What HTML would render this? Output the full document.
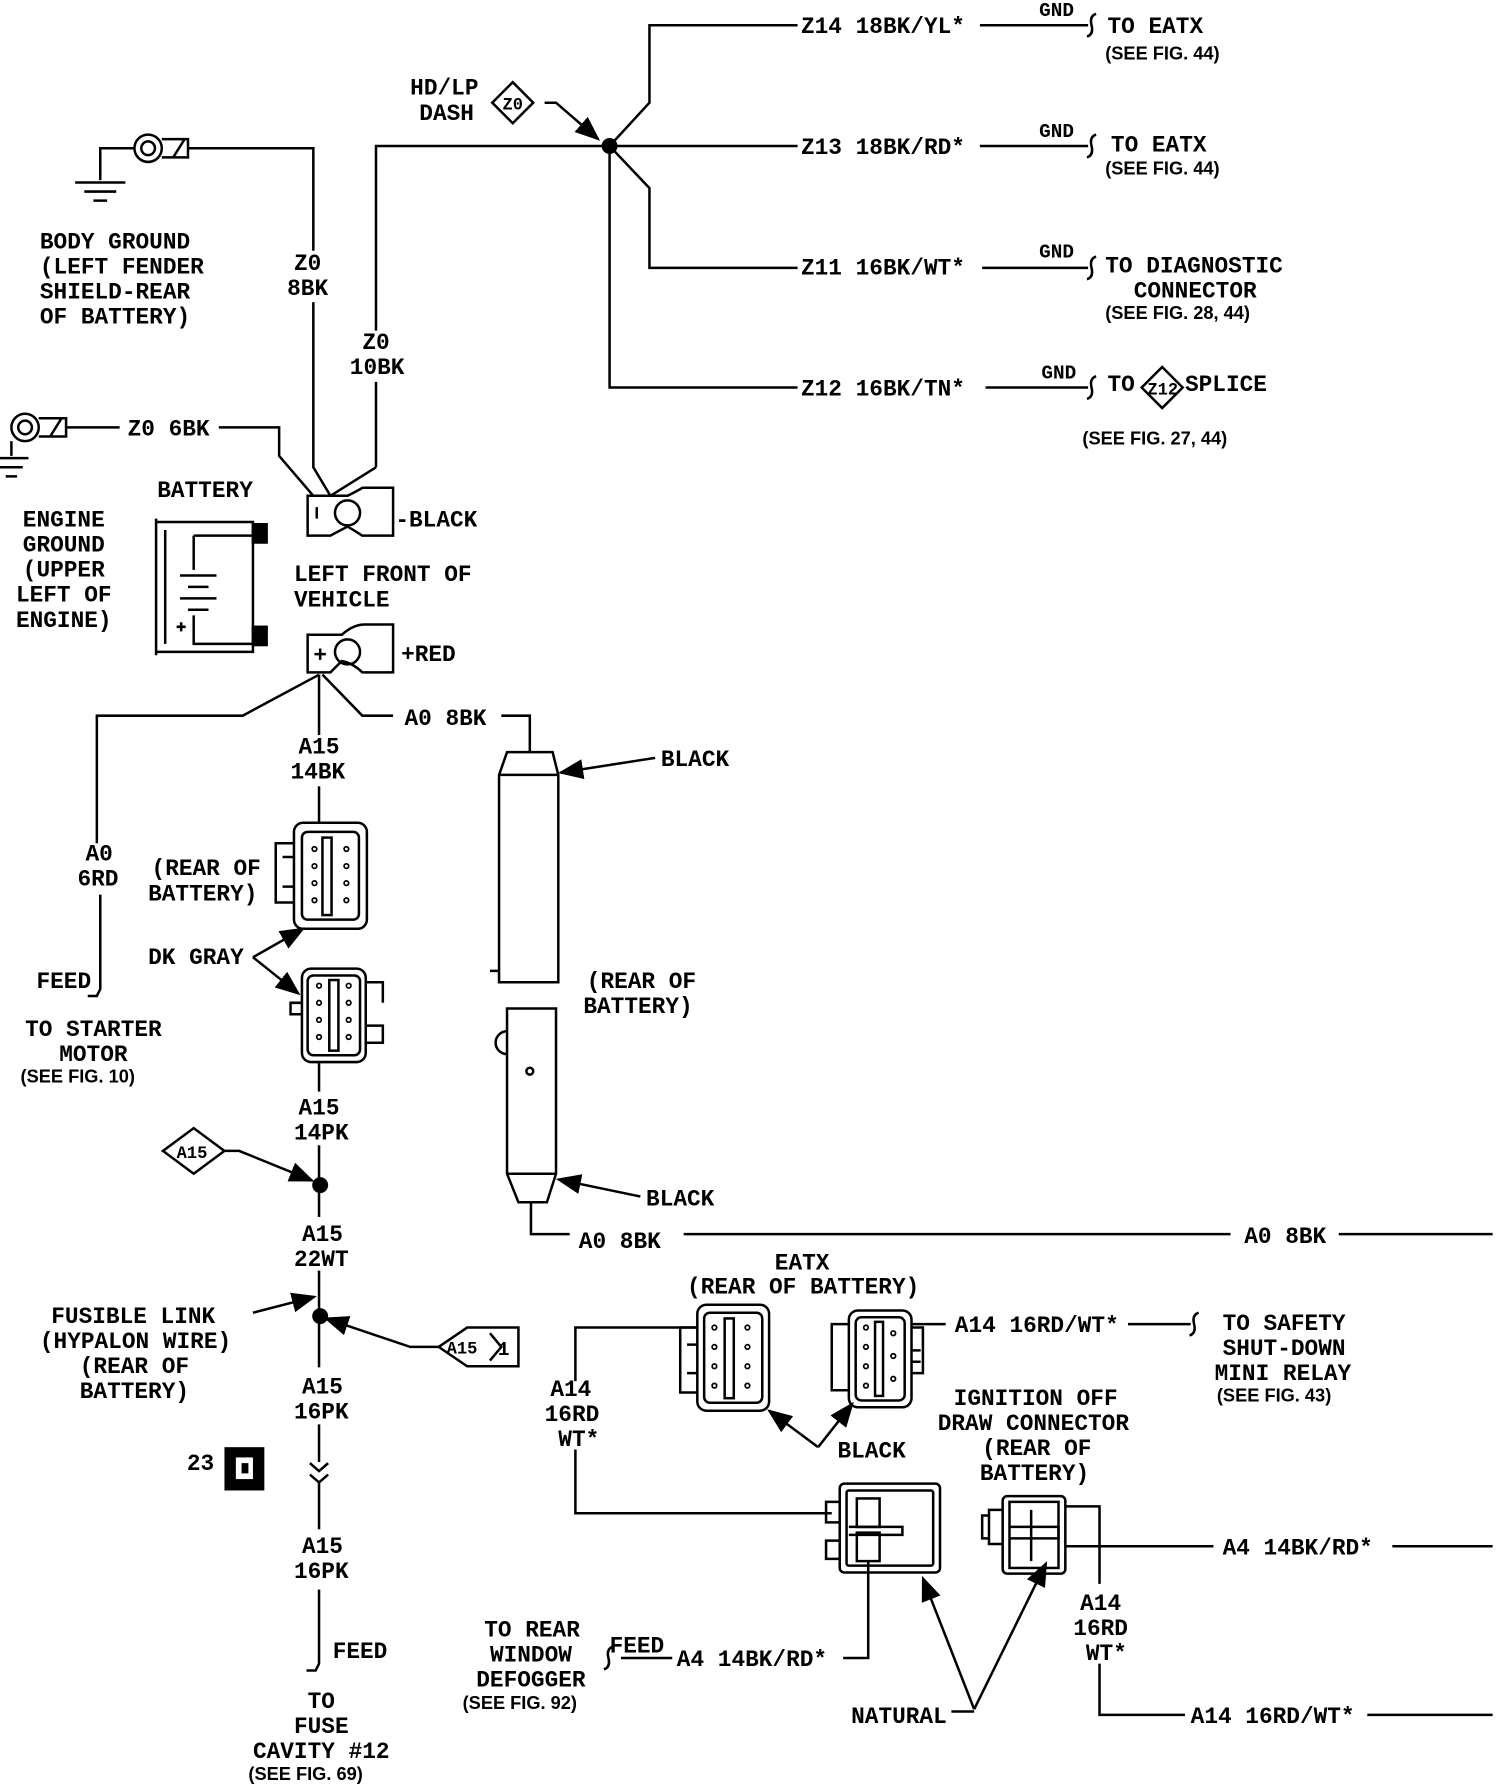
<!DOCTYPE html>
<html><head><meta charset="utf-8"><style>
html,body{margin:0;padding:0;background:#fff}
svg{display:block}
text{font-family:"Liberation Mono",monospace;font-size:20px;fill:#000;font-weight:bold}
.s{font-family:"Liberation Sans",sans-serif;font-size:16px;font-weight:bold}
.g{font-size:17px}
.t{font-size:15px}
</style></head><body>
<svg width="1504" height="1788" viewBox="0 0 1320 1569" xmlns="http://www.w3.org/2000/svg">
<defs><marker id="a" markerWidth="10" markerHeight="8" refX="9" refY="4" orient="auto"><path d="M0,0 L10,4 L0,8 z"/></marker></defs>
<g fill="none" stroke="#000" stroke-width="2.2">
<!-- top harness -->
<path d="M535,128 L570,90 L570,22 L700,22"/>
<path d="M330,410 V335 M330,290 V128 H700"/>
<path d="M535,128 L570,165 L570,235 L700,235"/>
<path d="M535,128 L535,340 L700,340"/>
<path d="M860,22 H955 M860,128 H955 M862,235 H955 M865,340 H955"/>
<path d="M962,12 q-6,2 -4,10 q2,8 -4,10 M962,118 q-6,2 -4,10 q2,8 -4,10 M962,225 q-6,2 -4,10 q2,8 -4,10 M962,330 q-6,2 -4,10 q2,8 -4,10"/>
<path d="M450,72 L468,90 L450,108 L432,90 Z"/>
<path d="M1020,322 L1038,340 L1020,358 L1002,340 Z"/>
<path d="M478,90 L488,90 L525,122" marker-end="url(#a)"/>
<!-- body ground -->
<circle cx="130" cy="130" r="12"/><circle cx="130" cy="130" r="6"/>
<path d="M142,122 H165 V138 H142 M152,138 L162,122"/>
<path d="M118,130 H88 V158 M66,160 H110 M74,168 H102 M82,176 H94"/>
<path d="M165,130 H275 V220 M275,265 V410 L290,435"/>
<!-- engine ground -->
<circle cx="22" cy="375" r="12"/><circle cx="22" cy="375" r="6"/>
<path d="M34,367 H58 V383 H34 M44,383 L54,367"/>
<path d="M10,387 V400 M-5,402 H25 M0,410 H20 M5,418 H15"/>
<path d="M58,375 H105 M192,375 H245 V400 L275,435 M330,410 L290,435"/>
<!-- -black terminal -->
<path d="M270,435 H305 Q315,430 318,428 H345 V470 H318 Q312,466 305,462 L290,470 H270 Z"/>
<circle cx="305" cy="450" r="11"/><path d="M278,445 V455"/>
<!-- battery -->
<path d="M137,455 V575 M137,458 H222 V572 H137 M145,465 V565"/>
<path d="M170,470 V500 M158,505 H190 M165,515 H183 M158,525 H190 M165,535 H183 M170,540 V565 H222 M170,470 H222"/>
<path d="M155,550 H163 M159,546 V554"/>
<rect x="222" y="460" width="12" height="16" fill="#000"/><rect x="222" y="550" width="12" height="16" fill="#000"/>
<!-- +red terminal -->
<path d="M270,557 H300 Q310,548 320,548 H345 V590 H318 Q310,582 300,580 L290,590 H270 Z"/>
<circle cx="305" cy="572" r="11"/><path d="M276,574 H286 M281,569 V579"/>
<path d="M280,592 L213,628 H85 V740 M88,785 V868 l-3,6 l-8,0"/>
<path d="M280,592 V645 M283,592 L318,628 H345 M440,628 H465 V660"/>
<!-- connectors upper -->
<rect x="258" y="722" width="64" height="93" rx="8"/><rect x="265" y="730" width="50" height="77" rx="5"/>
<path d="M258,740 H242 V792 H258 M248,752 H258 M248,778 H258"/>
<rect x="283" y="735" width="8" height="68"/>
<g stroke-width="1.5"><circle cx="276" cy="745" r="2"/><circle cx="276" cy="760" r="2"/><circle cx="276" cy="775" r="2"/><circle cx="276" cy="790" r="2"/><circle cx="304" cy="745" r="2"/><circle cx="304" cy="760" r="2"/><circle cx="304" cy="775" r="2"/><circle cx="304" cy="790" r="2"/></g>
<path d="M280,690 V722"/>
<rect x="265" y="850" width="56" height="82" rx="8"/><rect x="270" y="856" width="46" height="70" rx="5"/>
<path d="M321,862 H336 V880 M321,900 H336 V915 H321 M265,880 H255 V890 H265"/>
<rect x="289" y="860" width="8" height="62"/>
<g stroke-width="1.5"><circle cx="280" cy="865" r="2"/><circle cx="280" cy="880" r="2"/><circle cx="280" cy="895" r="2"/><circle cx="280" cy="910" r="2"/><circle cx="306" cy="865" r="2"/><circle cx="306" cy="880" r="2"/><circle cx="306" cy="895" r="2"/><circle cx="306" cy="910" r="2"/></g>
<path d="M222,840 L266,815" marker-end="url(#a)"/><path d="M222,840 L262,872" marker-end="url(#a)"/>
<!-- A15 down -->
<path d="M280,932 V958 M280,1005 V1068 M280,1115 V1200 M280,1250 V1283 M272,1284 L280,1291 L288,1284 M272,1294 L280,1301 L288,1294 M280,1301 V1342 M280,1395 V1460 l-3,6 l-8,0"/>
<path d="M143,1010 L170,990 L197,1010 L170,1030 Z"/>
<path d="M197,1010 H210 L274,1036" marker-end="url(#a)"/>
<path d="M222,1152 L276,1138" marker-end="url(#a)"/>
<path d="M385,1182 L410,1165 H455 V1199 H410 Z M430,1170 L440,1182 L430,1194"/>
<path d="M385,1182 H360 L286,1157" marker-end="url(#a)"/>
<!-- black cylinder -->
<path d="M445,660 H485 L490,680 V862 H438 V680 Z M438,680 H490 M430,852 H438 V862"/>
<path d="M575,665 L492,678" marker-end="url(#a)"/>
<path d="M445,885 H488 V1030 L480,1055 H455 L445,1030 Z M445,1030 H488"/>
<path d="M445,905 a10,10 0 0 0 0,20"/><circle cx="465" cy="940" r="3"/>
<path d="M562,1050 L490,1035" marker-end="url(#a)"/>
<path d="M466,1055 V1083 H500 M600,1083 H1080 M1175,1083 H1310"/>
<!-- EATX connectors -->
<rect x="612" y="1145" width="63" height="93" rx="8"/><rect x="618" y="1152" width="51" height="79" rx="5"/>
<path d="M612,1165 H597 V1222 H612 M603,1180 H612 M603,1205 H612"/>
<rect x="636" y="1157" width="8" height="70"/>
<g stroke-width="1.5"><circle cx="627" cy="1165" r="2"/><circle cx="627" cy="1182" r="2"/><circle cx="627" cy="1199" r="2"/><circle cx="627" cy="1216" r="2"/><circle cx="656" cy="1165" r="2"/><circle cx="656" cy="1182" r="2"/><circle cx="656" cy="1199" r="2"/><circle cx="656" cy="1216" r="2"/></g>
<rect x="745" y="1150" width="55" height="85" rx="8"/><rect x="751" y="1156" width="43" height="73" rx="5"/>
<path d="M745,1162 H730 V1220 H745 M800,1165 H810 V1205 H800 M800,1185 H808 M800,1195 H808"/>
<rect x="768" y="1160" width="7" height="65"/>
<g stroke-width="1.5"><circle cx="760" cy="1165" r="2"/><circle cx="760" cy="1182" r="2"/><circle cx="760" cy="1199" r="2"/><circle cx="760" cy="1216" r="2"/><circle cx="784" cy="1170" r="2"/><circle cx="784" cy="1190" r="2"/><circle cx="784" cy="1210" r="2"/></g>
<path d="M612,1165 H505 V1212 M505,1272 V1328 H730"/>
<path d="M800,1162 H830 M990,1162 H1045 M1052,1152 q-6,2 -4,10 q2,8 -4,10"/>
<path d="M718,1270 L675,1238" marker-end="url(#a)"/><path d="M718,1270 L748,1232" marker-end="url(#a)"/>
<!-- ignition off draw connectors -->
<rect x="737" y="1302" width="88" height="78" rx="4"/><rect x="743" y="1308" width="76" height="66" rx="2"/>
<path d="M737,1318 H725 V1336 H737 M737,1352 H725 V1368 H737"/>
<rect x="752" y="1315" width="20" height="25"/><rect x="752" y="1345" width="20" height="25"/><path d="M745,1340 H792 V1347 H745"/>
<path d="M762,1370 V1455 H740"/>
<rect x="880" y="1313" width="55" height="68" rx="4"/><rect x="886" y="1318" width="43" height="58"/>
<path d="M880,1325 H868 V1355 H880 M862,1330 H868 V1350 H862 Z M886,1340 H929 V1350 H886 M905,1325 V1370"/>
<path d="M935,1322 H965 V1390 M935,1357 H1065 M1222,1357 H1310 M965,1460 V1505 H1040 M1200,1505 H1310"/>
<path d="M590,1455 H545 M538,1445 q-6,2 -4,10 q2,8 -4,10"/>
<path d="M855,1500 L810,1385" marker-end="url(#a)"/><path d="M855,1500 L918,1372" marker-end="url(#a)"/><path d="M835,1502 H855"/>
</g>
<circle cx="535" cy="128" r="7" fill="#000"/>
<circle cx="281" cy="1040" r="7" fill="#000"/>
<circle cx="281" cy="1155" r="7" fill="#000"/>
<rect x="197" y="1270" width="35" height="38" fill="#000"/><rect x="207" y="1279" width="15" height="19" fill="#fff"/><rect x="212" y="1284" width="6" height="9" fill="#000"/>
<!-- text -->
<text x="703" y="29">Z14 18BK/YL*</text><text class="g" x="912" y="14">GND</text><text x="972" y="29">TO EATX</text><text class="s" x="970" y="52">(SEE FIG. 44)</text>
<text x="703" y="135">Z13 18BK/RD*</text><text class="g" x="912" y="120">GND</text><text x="975" y="133">TO EATX</text><text class="s" x="970" y="153">(SEE FIG. 44)</text>
<text x="703" y="241">Z11 16BK/WT*</text><text class="g" x="912" y="226">GND</text><text x="970" y="239">TO DIAGNOSTIC</text><text x="995" y="261">CONNECTOR</text><text class="s" x="970" y="280">(SEE FIG. 28, 44)</text>
<text x="703" y="347">Z12 16BK/TN*</text><text class="g" x="914" y="332">GND</text><text x="972" y="343">TO</text><text class="t" x="1007" y="346">Z12</text><text x="1040" y="343">SPLICE</text><text class="s" x="950" y="390">(SEE FIG. 27, 44)</text>
<text x="360" y="83">HD/LP</text><text x="368" y="105">DASH</text><text class="t" x="441" y="96">Z0</text>
<text x="35" y="218">BODY GROUND</text><text x="35" y="240">(LEFT FENDER</text><text x="35" y="262">SHIELD-REAR</text><text x="35" y="284">OF BATTERY)</text>
<text x="258" y="237">Z0</text><text x="252" y="259">8BK</text>
<text x="318" y="306">Z0</text><text x="307" y="328">10BK</text>
<text x="112" y="382">Z0 6BK</text>
<text x="20" y="462">ENGINE</text><text x="20" y="484">GROUND</text><text x="20" y="506">(UPPER</text><text x="14" y="528">LEFT OF</text><text x="14" y="550">ENGINE)</text>
<text x="138" y="436">BATTERY</text>
<text x="347" y="462">-BLACK</text><text x="258" y="510">LEFT FRONT OF</text><text x="258" y="532">VEHICLE</text>
<text x="352" y="580">+RED</text>
<text x="355" y="636">A0 8BK</text>
<text x="262" y="661">A15</text><text x="255" y="683">14BK</text>
<text x="75" y="755">A0</text><text x="68" y="777">6RD</text>
<text x="133" y="768">(REAR OF</text><text x="130" y="790">BATTERY)</text>
<text x="130" y="846">DK GRAY</text>
<text x="32" y="867">FEED</text>
<text x="22" y="909">TO STARTER</text><text x="52" y="931">MOTOR</text><text class="s" x="18" y="950">(SEE FIG. 10)</text>
<text x="580" y="672">BLACK</text>
<text x="515" y="867">(REAR OF</text><text x="512" y="889">BATTERY)</text>
<text x="567" y="1058">BLACK</text>
<text x="262" y="978">A15</text><text x="258" y="1000">14PK</text>
<text class="t" x="155" y="1016">A15</text>
<text x="265" y="1089">A15</text><text x="258" y="1111">22WT</text>
<text x="45" y="1161">FUSIBLE LINK</text><text x="35" y="1183">(HYPALON WIRE)</text><text x="70" y="1205">(REAR OF</text><text x="70" y="1227">BATTERY)</text>
<text class="t" x="392" y="1188">A15</text><text class="g" x="437" y="1189">1</text>
<text x="265" y="1223">A15</text><text x="258" y="1245">16PK</text>
<text x="164" y="1290">23</text>
<text x="265" y="1363">A15</text><text x="258" y="1385">16PK</text>
<text x="292" y="1455">FEED</text>
<text x="270" y="1499">TO</text><text x="258" y="1521">FUSE</text><text x="222" y="1543">CAVITY #12</text><text class="s" x="218" y="1562">(SEE FIG. 69)</text>
<text x="508" y="1095">A0 8BK</text><text x="1092" y="1091">A0 8BK</text>
<text x="680" y="1114">EATX</text><text x="603" y="1135">(REAR OF BATTERY)</text>
<text x="838" y="1169">A14 16RD/WT*</text>
<text x="1073" y="1167">TO SAFETY</text><text x="1073" y="1189">SHUT-DOWN</text><text x="1066" y="1211">MINI RELAY</text><text class="s" x="1068" y="1230">(SEE FIG. 43)</text>
<text x="483" y="1225">A14</text><text x="478" y="1247">16RD</text><text x="490" y="1269">WT*</text>
<text x="735" y="1279">BLACK</text>
<text x="837" y="1233">IGNITION OFF</text><text x="823" y="1255">DRAW CONNECTOR</text><text x="862" y="1277">(REAR OF</text><text x="860" y="1299">BATTERY)</text>
<text x="1073" y="1364">A4 14BK/RD*</text>
<text x="948" y="1413">A14</text><text x="942" y="1435">16RD</text><text x="953" y="1457">WT*</text>
<text x="425" y="1436">TO REAR</text><text x="430" y="1458">WINDOW</text><text x="418" y="1480">DEFOGGER</text><text class="s" x="406" y="1500">(SEE FIG. 92)</text>
<text x="535" y="1450">FEED</text><text x="594" y="1462">A4 14BK/RD*</text>
<text x="747" y="1512">NATURAL</text>
<text x="1045" y="1512">A14 16RD/WT*</text>
</svg>
</body></html>
